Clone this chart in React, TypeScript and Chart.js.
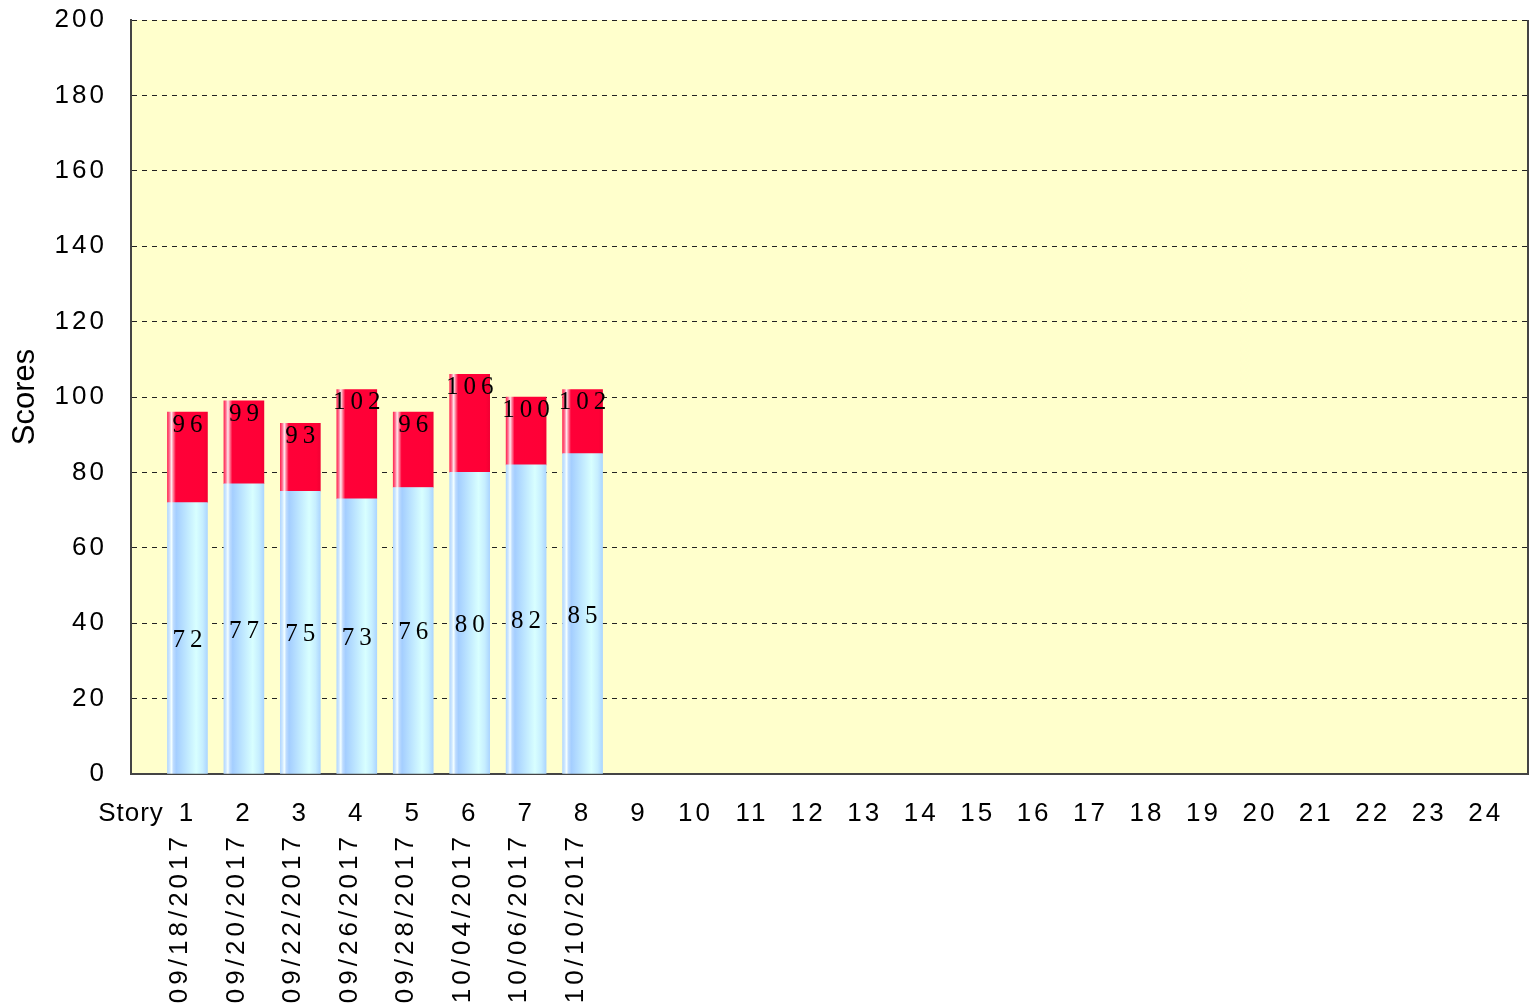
import React, { useEffect, useRef } from 'react';
import { Chart, registerables } from 'chart.js';

Chart.register(...registerables);

// ---- data ----
const stories = [1, 2, 3, 4, 5, 6, 7, 8];
const dates = ['09/18/2017', '09/20/2017', '09/22/2017', '09/26/2017', '09/28/2017', '10/04/2017', '10/06/2017', '10/10/2017'];
const baseScores = [72, 77, 75, 73, 76, 80, 82, 85];
const totalScores = [96, 99, 93, 102, 96, 106, 100, 102];
const xAxisName = 'Story';
const xTickLabels = ['', '1', '2', '3', '4', '5', '6', '7', '8', '9', '10', '11', '12', '13', '14', '15', '16', '17', '18', '19', '20', '21', '22', '23', '24'];
const yTitle = 'Scores';
const yMin = 0;
const yMax = 200;
const yStep = 20;

// ---- styles ----
const SANS = '"Liberation Sans", Arial, sans-serif';
const SERIF = '"Liberation Serif", "Times New Roman", serif';
const BAR_W = 40;
const redStops: [number, string][] = [
  [0, '#ff2a55'], [0.05, '#ff7090'], [0.1, '#ffe8ee'], [0.15, '#ff7a95'], [0.21, '#ff0038'], [0.9, '#ff0036'], [1, '#f20033'],
];
const blueStops: [number, string][] = [
  [0, '#b4d8ff'], [0.05, '#cce6ff'], [0.1, '#f4ffff'], [0.15, '#bedcff'], [0.22, '#a4ceff'], [0.72, '#d8ffff'], [0.88, '#c6eeff'], [1, '#acd6ff'],
];

function barGradient(stops: [number, string][]) {
  return (c: any) => {
    const chart = c.chart;
    const fallback = stops[stops.length - 2][1];
    const xs = chart.scales && chart.scales.x;
    if (c.type !== 'data' || !xs || !c.raw) return fallback;
    const cx = xs.getPixelForValue(c.raw.x);
    if (!Number.isFinite(cx)) return fallback;
    const g = chart.ctx.createLinearGradient(cx - BAR_W / 2, 0, cx + BAR_W / 2, 0);
    stops.forEach(([o, col]) => g.addColorStop(o, col));
    return g;
  };
}

const framePlugin = {
  id: 'frame',
  beforeDraw(chart: any) {
    const { ctx, chartArea: a } = chart;
    ctx.letterSpacing = '3px';
    ctx.save();
    ctx.fillStyle = '#ffffcc';
    ctx.fillRect(a.left, a.top, a.right - a.left, a.bottom - a.top);
    ctx.restore();
  },
  afterDraw(chart: any) {
    const { ctx, chartArea: a } = chart;
    const xs = chart.scales.x;
    ctx.save();
    ctx.strokeStyle = '#444';
    ctx.lineWidth = 2;
    ctx.beginPath();
    ctx.moveTo(a.right, a.top);
    ctx.lineTo(a.right, a.bottom);
    ctx.stroke();
    // x axis name, in the tick row
    ctx.fillStyle = '#000';
    ctx.letterSpacing = '1px';
    ctx.font = '26px ' + SANS;
    ctx.textAlign = 'center';
    ctx.textBaseline = 'top';
    ctx.fillText(xAxisName, xs.getPixelForValue(0), xs.top + 27);
    // y-axis title
    ctx.letterSpacing = '0px';
    ctx.font = '31px ' + SANS;
    ctx.translate(34, (a.top + a.bottom) / 2);
    ctx.rotate(-Math.PI / 2);
    ctx.textAlign = 'center';
    ctx.textBaseline = 'alphabetic';
    ctx.fillText(yTitle, 0, 0);
    ctx.restore();
  },
};

const labelsPlugin = {
  id: 'valueLabels',
  afterDatasetsDraw(chart: any) {
    const ctx = chart.ctx;
    ctx.save();
    ctx.font = '25px ' + SERIF;
    ctx.letterSpacing = '5px';
    ctx.fillStyle = '#000';
    ctx.textAlign = 'center';
    ctx.textBaseline = 'alphabetic';
    const m0 = chart.getDatasetMeta(0);
    const m1 = chart.getDatasetMeta(1);
    m0.data.forEach((el: any, i: number) => {
      const { x, y, base } = el.getProps(['x', 'y', 'base'], true);
      ctx.fillText(String(baseScores[i]), x + 2.5, (y + base) / 2 + 9);
    });
    m1.data.forEach((el: any, i: number) => {
      const { x, y } = el.getProps(['x', 'y'], true);
      ctx.fillText(String(totalScores[i]), x + 2.5, y + 20);
    });
    ctx.restore();
  },
  afterDraw(chart: any) {
    const ctx = chart.ctx;
    const xs = chart.scales.x;
    ctx.save();
    ctx.font = '26px ' + SANS;
    ctx.letterSpacing = '4px';
    ctx.fillStyle = '#000';
    dates.forEach((d, i) => {
      const px = xs.getPixelForValue(stories[i]);
      ctx.save();
      ctx.translate(px, xs.top + 59);
      ctx.rotate(-Math.PI / 2);
      ctx.textAlign = 'right';
      ctx.textBaseline = 'alphabetic';
      ctx.fillText(d, 0, 0);
      ctx.restore();
    });
    ctx.restore();
  },
};

export default function App() {
  const ref = useRef<HTMLCanvasElement | null>(null);

  useEffect(() => {
    document.body.style.margin = '0';
    document.body.style.overflow = 'hidden';
    const canvas = ref.current;
    if (!canvas) return;
    const chart = new Chart(canvas, {
      type: 'bar',
      data: {
        datasets: [
          {
            label: 'Base',
            data: stories.map((s, i) => ({ x: s, y: baseScores[i] })),
            backgroundColor: barGradient(blueStops),
            borderWidth: 0,
            barThickness: BAR_W,
            stack: 's',
          },
          {
            label: 'Total',
            data: stories.map((s, i) => ({ x: s, y: totalScores[i] - baseScores[i] })),
            backgroundColor: barGradient(redStops),
            borderWidth: 0,
            barThickness: BAR_W,
            stack: 's',
          },
        ],
      },
      options: {
        animation: false,
        responsive: false,
        devicePixelRatio: 1,
        layout: { padding: { left: 0, right: 3, top: 20, bottom: 0 } },
        plugins: { legend: { display: false }, tooltip: { enabled: false } },
        scales: {
          x: {
            type: 'linear',
            offset: false,
            stacked: true,
            min: 0,
            max: 24.75,
            afterBuildTicks: (s: any) => {
              s.ticks = xTickLabels.map((_, i) => ({ value: i }));
            },
            afterFit: (s: any) => {
              s.height = 229;
              s.paddingLeft = 0;
              s.paddingRight = 0;
            },
            ticks: {
              autoSkip: false,
              maxRotation: 0,
              minRotation: 0,
              padding: 24,
              color: '#000',
              font: { family: SANS, size: 26 },
              callback: (_v: any, i: number) => xTickLabels[i] ?? '',
            },
            grid: { display: false, drawTicks: false, offset: false },
            border: { display: true, color: '#444', width: 2 },
          },
          y: {
            stacked: true,
            min: yMin,
            max: yMax,
            afterFit: (s: any) => {
              s.width = 131;
              s.paddingTop = 0;
              s.paddingBottom = 0;
            },
            ticks: {
              stepSize: yStep,
              padding: 24,
              color: '#000',
              font: { family: SANS, size: 26 },
            },
            grid: { color: '#222', lineWidth: 1, drawTicks: false },
            border: { display: true, color: '#444', width: 2, dash: [5, 5] },
            title: { display: false },
          },
        },
      },
      plugins: [framePlugin, labelsPlugin],
    } as any);
    return () => chart.destroy();
  }, []);

  return (
    <div style={{ width: 1531, height: 1003 }}>
      <canvas ref={ref} width={1531} height={1003} style={{ display: 'block' }} />
    </div>
  );
}
